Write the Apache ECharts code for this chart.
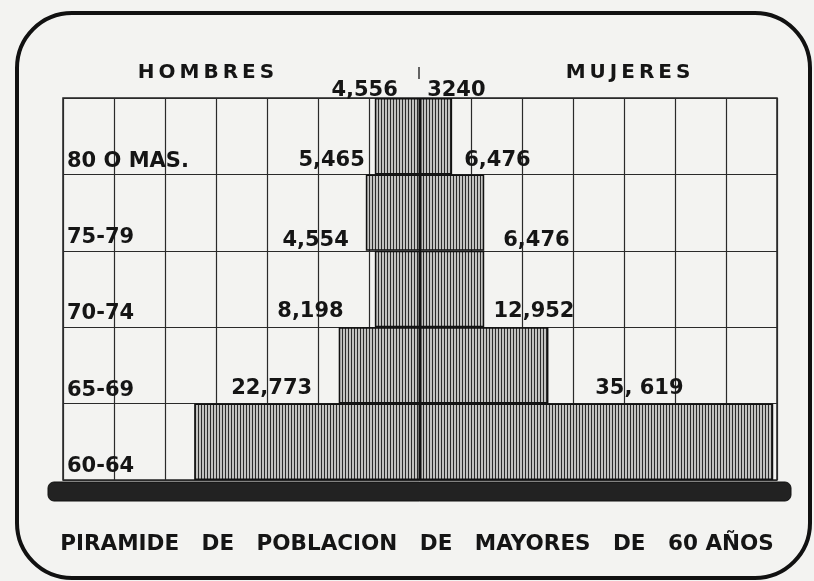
<!DOCTYPE html>
<html>
<head>
<meta charset="utf-8">
<script src="https://cdn.jsdelivr.net/npm/echarts@6/dist/echarts.min.js"></script>
<style>
  html, body { margin: 0; padding: 0; background: #f3f3f1; }
  #chart { width: 814px; height: 581px; }
</style>
</head>
<body>
<div id="chart"></div>
<script>
// ---- data (bottom row first) ----
const categories = ['60-64', '65-69', '70-74', '75-79', '80 O MAS.'];
const hombres = [22773, 8198, 4554, 5465, 4556];
const mujeres = [35619, 12952, 6476, 6476, 3240];
const hombresTexto = ['22,773', '8,198', '4,554', '5,465', '4,556'];
const mujeresTexto = ['35, 619', '12,952', '6,476', '6,476', '3240'];
const tituloIzq = 'HOMBRES';
const tituloDer = 'MUJERES';
const tituloPie = 'PIRAMIDE   DE   POBLACION   DE   MAYORES   DE   60 AÑOS';

const axisMax = 36000;
const tickStep = axisMax / 7;

// label nudges (hand-placed lettering in the original)
const nudgeH = [118, 5, -26, -1, 23];
const nudgeM = [-178, -55, 19, -20, -25];
const gapY = [5, 5, 0, 3, -3];

function spaced(s) { return s.split('').join('\u2009'); }

function hatch() {
  const c = document.createElement('canvas');
  c.width = 3; c.height = 8;
  const g = c.getContext('2d');
  g.fillStyle = '#c2c2c0'; g.fillRect(0, 0, 3, 8);
  g.fillStyle = '#2c2c2c'; g.fillRect(0, 0, 1, 8);
  return c;
}

const FONT = 'DejaVu Sans';
const ink = '#151515';
const chart = echarts.init(document.getElementById('chart'), null, { renderer: 'canvas' });

const labelBase = {
  show: true,
  color: ink,
  fontFamily: FONT,
  fontWeight: 'bold',
  fontSize: 21
};

const barStyle = {
  color: { image: hatch(), repeat: 'repeat' },
  borderColor: '#111',
  borderWidth: 1.5
};

chart.setOption({
  backgroundColor: '#f3f3f1',
  animation: false,
  grid: {
    left: 63, right: 37, top: 98, bottom: 101,
    show: true, borderColor: '#222', borderWidth: 1.5
  },
  xAxis: {
    type: 'value',
    min: -axisMax, max: axisMax, interval: tickStep,
    axisLabel: { show: false },
    axisLine: { show: false },
    axisTick: { show: false },
    splitLine: { show: true, lineStyle: { color: '#2a2a2a', width: 1.2 } }
  },
  yAxis: {
    type: 'category',
    data: categories,
    axisLine: { show: false },
    axisTick: { show: false },
    splitLine: { show: true, lineStyle: { color: '#2a2a2a', width: 1.2 } },
    axisLabel: {
      inside: true,
      margin: 4,
      color: ink,
      fontFamily: FONT,
      fontWeight: 'bold',
      fontSize: 21,
      verticalAlign: 'top',
      lineHeight: 50
    }
  },
  series: [
    {
      name: 'Hombres',
      type: 'bar',
      stack: 'p',
      barCategoryGap: '0%',
      data: hombres.map(v => -v),
      itemStyle: barStyle,
      label: Object.assign({}, labelBase, {
        formatter: p => hombresTexto[p.dataIndex]
      }),
      labelLayout: function (p) {
        const r = p.rect;
        return { x: r.x + nudgeH[p.dataIndex], y: r.y - gapY[p.dataIndex], align: 'right', verticalAlign: 'bottom' };
      },
      markLine: {
        silent: true,
        symbol: ['none', 'none'],
        label: { show: false },
        lineStyle: { color: '#111', type: [8, 4], width: 2 },
        data: [{ xAxis: 0 }]
      }
    },
    {
      name: 'Mujeres',
      type: 'bar',
      stack: 'p',
      barCategoryGap: '0%',
      data: mujeres,
      itemStyle: barStyle,
      label: Object.assign({}, labelBase, {
        formatter: p => mujeresTexto[p.dataIndex]
      }),
      labelLayout: function (p) {
        const r = p.rect;
        return { x: r.x + r.width + nudgeM[p.dataIndex], y: r.y - gapY[p.dataIndex], align: 'left', verticalAlign: 'bottom' };
      }
    }
  ],
  graphic: [
    {
      type: 'rect', z: 100, silent: true,
      shape: { x: 17, y: 13, width: 793, height: 565, r: 55 },
      style: { fill: 'none', stroke: '#111', lineWidth: 4 }
    },
    {
      type: 'rect', z: 100, silent: true,
      shape: { x: 48, y: 482, width: 743, height: 19, r: 6 },
      style: { fill: '#222', stroke: '#111', lineWidth: 1 }
    },
    {
      type: 'line', z: 100, silent: true,
      shape: { x1: 419, y1: 67, x2: 419, y2: 79 },
      style: { stroke: '#333', lineWidth: 1.5 }
    },
    {
      type: 'text', z: 100, silent: true, x: 206, y: 73,
      style: { text: spaced(tituloIzq), fill: ink, font: 'bold 20px "DejaVu Sans"', align: 'center', verticalAlign: 'middle' }
    },
    {
      type: 'text', z: 100, silent: true, x: 628, y: 73,
      style: { text: spaced(tituloDer), fill: ink, font: 'bold 20px "DejaVu Sans"', align: 'center', verticalAlign: 'middle' }
    },
    {
      type: 'text', z: 100, silent: true, x: 417, y: 544,
      style: { text: tituloPie, fill: ink, font: 'bold 21.5px "DejaVu Sans"', align: 'center', verticalAlign: 'middle' }
    }
  ]
});
</script>
</body>
</html>
